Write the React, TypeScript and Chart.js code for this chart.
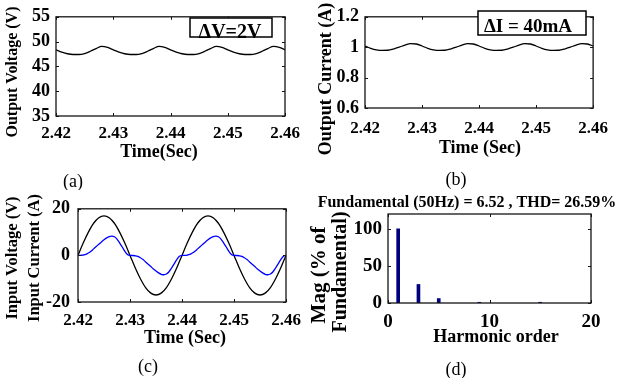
import React, { useEffect, useRef } from 'react';
import { Chart, registerables } from 'chart.js';

Chart.register(...registerables);

// ---------- data ----------
const time1ms = [2.420, 2.421, 2.422, 2.423, 2.424, 2.425, 2.426, 2.427, 2.428, 2.429,
  2.430, 2.431, 2.432, 2.433, 2.434, 2.435, 2.436, 2.437, 2.438, 2.439,
  2.440, 2.441, 2.442, 2.443, 2.444, 2.445, 2.446, 2.447, 2.448, 2.449,
  2.450, 2.451, 2.452, 2.453, 2.454, 2.455, 2.456, 2.457, 2.458, 2.459, 2.460];

const outputVoltage = [48.35, 47.9, 47.55, 47.4, 47.4, 47.6, 48.05, 48.6, 49.05, 48.85,
  48.35, 47.9, 47.55, 47.4, 47.4, 47.6, 48.05, 48.6, 49.05, 48.85,
  48.35, 47.9, 47.55, 47.4, 47.4, 47.6, 48.05, 48.6, 49.05, 48.85,
  48.35, 47.9, 47.55, 47.4, 47.4, 47.6, 48.05, 48.6, 49.05, 48.85, 48.35];

const outputCurrent = [1.008, 0.993, 0.983, 0.979, 0.98, 0.988, 1.0, 1.014, 1.024, 1.021,
  1.008, 0.993, 0.983, 0.979, 0.98, 0.988, 1.0, 1.014, 1.024, 1.021,
  1.008, 0.993, 0.983, 0.979, 0.98, 0.988, 1.0, 1.014, 1.024, 1.021,
  1.008, 0.993, 0.983, 0.979, 0.98, 0.988, 1.0, 1.014, 1.024, 1.021, 1.008];

const inputVoltage = [0, 5.3, 10.0, 13.8, 16.2, 17.0, 16.2, 13.8, 10.0, 5.3,
  0, -5.3, -10.0, -13.8, -16.2, -17.0, -16.2, -13.8, -10.0, -5.3,
  0, 5.3, 10.0, 13.8, 16.2, 17.0, 16.2, 13.8, 10.0, 5.3,
  0, -5.3, -10.0, -13.8, -16.2, -17.0, -16.2, -13.8, -10.0, -5.3, 0];

const time05ms = [2.4200, 2.4205, 2.4210, 2.4215, 2.4220, 2.4225, 2.4230, 2.4235, 2.4240, 2.4245,
  2.4250, 2.4255, 2.4260, 2.4265, 2.4270, 2.4275, 2.4280, 2.4285, 2.4290, 2.4295,
  2.4300, 2.4305, 2.4310, 2.4315, 2.4320, 2.4325, 2.4330, 2.4335, 2.4340, 2.4345,
  2.4350, 2.4355, 2.4360, 2.4365, 2.4370, 2.4375, 2.4380, 2.4385, 2.4390, 2.4395,
  2.4400, 2.4405, 2.4410, 2.4415, 2.4420, 2.4425, 2.4430, 2.4435, 2.4440, 2.4445,
  2.4450, 2.4455, 2.4460, 2.4465, 2.4470, 2.4475, 2.4480, 2.4485, 2.4490, 2.4495,
  2.4500, 2.4505, 2.4510, 2.4515, 2.4520, 2.4525, 2.4530, 2.4535, 2.4540, 2.4545,
  2.4550, 2.4555, 2.4560, 2.4565, 2.4570, 2.4575, 2.4580, 2.4585, 2.4590, 2.4595, 2.4600];

const inputCurrent = [0, 0.05, 0.15, 0.4, 1.0, 1.8, 2.8, 3.8, 4.8, 5.8,
  6.7, 7.5, 8.1, 8.3, 8.0, 7.0, 5.4, 3.6, 1.8, 0.4,
  0, -0.05, -0.15, -0.4, -1.0, -1.8, -2.8, -3.8, -4.8, -5.8,
  -6.7, -7.5, -8.1, -8.3, -8.0, -7.0, -5.4, -3.6, -1.8, -0.4,
  0, 0.05, 0.15, 0.4, 1.0, 1.8, 2.8, 3.8, 4.8, 5.8,
  6.7, 7.5, 8.1, 8.3, 8.0, 7.0, 5.4, 3.6, 1.8, 0.4,
  0, -0.05, -0.15, -0.4, -1.0, -1.8, -2.8, -3.8, -4.8, -5.8,
  -6.7, -7.5, -8.1, -8.3, -8.0, -7.0, -5.4, -3.6, -1.8, -0.4, 0];

const harmonicOrder = [1, 3, 5, 9, 15];
const harmonicMag = [100, 25, 6, 1, 1];

const timeTicks = [2.42, 2.43, 2.44, 2.45, 2.46];
const timeTickLabels = ['2.42', '2.43', '2.44', '2.45', '2.46'];
const voltageTicks = [35, 40, 45, 50, 55];
const voltageTickLabels = ['35', '40', '45', '50', '55'];
const currentTicks = [0.6, 0.8, 1.0, 1.2];
const currentTickLabels = ['0.6', '0.8', '1', '1.2'];
const inputTicks = [-20, 0, 20];
const inputTickLabels = ['-20', '0', '20'];
const magTicks = [0, 50, 100];
const magTickLabels = ['0', '50', '100'];
const orderTicks = [0, 10, 20];
const orderTickLabels = ['0', '10', '20'];

// ---------- rendering ----------
const FAMILY = "'Liberation Serif', 'Times New Roman', Times, serif";

type TextItem = { t: string; x: number; y: number; size: number; bold?: boolean; rot?: boolean };
type BoxItem = { x1: number; y1: number; x2: number; y2: number; t: string; tx: number; ty: number; size: number };
type AxisCfg = { min: number; max: number; ticks: number[]; labels: string[]; size: number; pad: number };
interface PanelCfg {
  key: string;
  canvas: [number, number, number, number];
  area: [number, number, number, number];
  type: 'line' | 'bar';
  datasets: any[];
  x: AxisCfg;
  y: AxisCfg;
  texts: TextItem[];
  box?: BoxItem;
}

const pts = (xs: number[], ys: number[]) => xs.map((x, i) => ({ x, y: ys[i] }));

const lineStyle = (color: string) => ({
  borderColor: color,
  borderWidth: 1.3,
  pointRadius: 0,
  fill: false,
  cubicInterpolationMode: 'monotone',
});

const panels: PanelCfg[] = [
  {
    key: 'a',
    canvas: [0, 0, 309, 190],
    area: [56, 13, 285, 116],
    type: 'line',
    datasets: [{ data: pts(time1ms, outputVoltage), ...lineStyle('#000000') }],
    x: { min: 2.42, max: 2.46, ticks: timeTicks, labels: timeTickLabels, size: 17, pad: 7 },
    y: { min: 35, max: 55, ticks: voltageTicks, labels: voltageTickLabels, size: 18, pad: 6 },
    texts: [
      { t: 'Output Voltage (V)', x: 13, y: 72, size: 16, bold: true, rot: true },
      { t: 'Time(Sec)', x: 159, y: 152, size: 18, bold: true },
      { t: '(a)', x: 73, y: 182, size: 18 },
    ],
    box: { x1: 190, y1: 18, x2: 272, y2: 37, t: 'ΔV=2V', tx: 230, ty: 37.5, size: 20 },
  },
  {
    key: 'b',
    canvas: [309, 0, 309, 190],
    area: [365, 11, 601, 108],
    type: 'line',
    datasets: [{ data: pts(time1ms, outputCurrent), ...lineStyle('#000000') }],
    x: { min: 2.42, max: 2.46, ticks: timeTicks, labels: timeTickLabels, size: 17, pad: 10 },
    y: { min: 0.6, max: 1.2, ticks: currentTicks, labels: currentTickLabels, size: 18, pad: 6 },
    texts: [
      { t: 'Output Current (A)', x: 326, y: 79, size: 18, bold: true, rot: true },
      { t: 'Time (Sec)', x: 480, y: 148, size: 18, bold: true },
      { t: '(b)', x: 456, y: 180, size: 18 },
    ],
    box: { x1: 478, y1: 11, x2: 586, y2: 35, t: 'ΔI = 40mA', tx: 528, ty: 32, size: 19 },
  },
  {
    key: 'c',
    canvas: [0, 190, 309, 188],
    area: [78, 202, 286, 302],
    type: 'line',
    datasets: [
      { data: pts(time05ms, inputCurrent), ...lineStyle('#0000ff') },
      { data: pts(time1ms, inputVoltage), ...lineStyle('#000000') },
    ],
    x: { min: 2.42, max: 2.46, ticks: timeTicks, labels: timeTickLabels, size: 17, pad: 8 },
    y: { min: -20, max: 20, ticks: inputTicks, labels: inputTickLabels, size: 18, pad: 8 },
    texts: [
      { t: 'Input Voltage (V)', x: 13, y: 258, size: 16.5, bold: true, rot: true },
      { t: 'Input Current (A)', x: 35, y: 258, size: 16.5, bold: true, rot: true },
      { t: 'Time (Sec)', x: 185, y: 338, size: 18, bold: true },
      { t: '(c)', x: 148, y: 367, size: 18 },
    ],
  },
  {
    key: 'd',
    canvas: [309, 190, 309, 188],
    area: [388, 214, 591, 303],
    type: 'bar',
    datasets: [{
      data: pts(harmonicOrder, harmonicMag),
      backgroundColor: '#00007f',
      borderColor: '#000033',
      borderWidth: 0,
      barThickness: 3,
    }],
    x: { min: 0, max: 20, ticks: orderTicks, labels: orderTickLabels, size: 19, pad: 8 },
    y: { min: 0, max: 120, ticks: magTicks, labels: magTickLabels, size: 19, pad: 6 },
    texts: [
      { t: 'Fundamental (50Hz) = 6.52 , THD= 26.59%', x: 467, y: 203, size: 16, bold: true },
      { t: 'Mag (% of', x: 320, y: 275, size: 21, bold: true, rot: true },
      { t: 'Fundamental)', x: 341, y: 272, size: 20, bold: true, rot: true },
      { t: 'Harmonic order', x: 496, y: 337, size: 18, bold: true },
      { t: '(d)', x: 456, y: 370, size: 18 },
    ],
  },
];

function Panel({ cfg }: { cfg: PanelCfg }) {
  const ref = useRef<HTMLCanvasElement | null>(null);
  const [cl, ct, cw, ch] = cfg.canvas;

  useEffect(() => {
    const canvas = ref.current;
    if (!canvas) return;
    const [L, T, R, B] = cfg.area;

    const frame = {
      id: 'frame' + cfg.key,
      afterDraw(chart: any) {
        const ctx = chart.ctx as CanvasRenderingContext2D;
        const a = chart.chartArea;
        const xs = chart.scales.x;
        const ys = chart.scales.y;
        ctx.save();
        ctx.strokeStyle = '#141414';
        ctx.lineWidth = 1.3;
        ctx.strokeRect(a.left, a.top, a.right - a.left, a.bottom - a.top);
        ctx.lineWidth = 1;
        ctx.beginPath();
        cfg.x.ticks.forEach((v) => {
          const p = Math.round(xs.getPixelForValue(v)) + 0.5;
          ctx.moveTo(p, a.bottom); ctx.lineTo(p, a.bottom - 3);
          ctx.moveTo(p, a.top); ctx.lineTo(p, a.top + 3);
        });
        cfg.y.ticks.forEach((v) => {
          const p = Math.round(ys.getPixelForValue(v)) + 0.5;
          ctx.moveTo(a.left, p); ctx.lineTo(a.left + 3, p);
          ctx.moveTo(a.right, p); ctx.lineTo(a.right - 3, p);
        });
        ctx.stroke();

        ctx.fillStyle = '#000';
        if (cfg.box) {
          const b = cfg.box;
          ctx.fillStyle = '#fff';
          ctx.fillRect(b.x1 - cl, b.y1 - ct, b.x2 - b.x1, b.y2 - b.y1);
          ctx.fillStyle = '#000';
          ctx.font = `bold ${b.size}px ${FAMILY}`;
          ctx.textAlign = 'center';
          ctx.textBaseline = 'alphabetic';
          ctx.fillText(b.t, b.tx - cl, b.ty - ct);
          ctx.lineWidth = 1.5;
          ctx.strokeStyle = '#000';
          ctx.strokeRect(b.x1 - cl, b.y1 - ct, b.x2 - b.x1, b.y2 - b.y1);
        }

        cfg.texts.forEach((it) => {
          ctx.save();
          ctx.fillStyle = '#000';
          ctx.font = `${it.bold ? 'bold ' : ''}${it.size}px ${FAMILY}`;
          ctx.textAlign = 'center';
          ctx.textBaseline = 'middle';
          ctx.translate(it.x - cl, it.y - ct);
          if (it.rot) ctx.rotate(-Math.PI / 2);
          ctx.fillText(it.t, 0, 0);
          ctx.restore();
        });
        ctx.restore();
      },
    };

    const axis = (ac: AxisCfg, horizontal: boolean) => ({
      type: 'linear',
      min: ac.min,
      max: ac.max,
      offset: false,
      afterBuildTicks: (s: any) => { s.ticks = ac.ticks.map((value) => ({ value })); },
      afterFit: (s: any) => {
        if (horizontal) s.height = ct + ch - B;
        else s.width = L - cl;
      },
      grid: { display: false, drawTicks: false, offset: false },
      border: { display: false },
      ticks: {
        color: '#000',
        font: { family: FAMILY, size: ac.size, weight: 'bold' },
        padding: ac.pad,
        maxRotation: 0,
        minRotation: 0,
        autoSkip: false,
        callback: (_v: any, i: number) => ac.labels[i],
      },
    });

    const chart = new Chart(canvas, {
      type: cfg.type,
      data: { datasets: cfg.datasets },
      options: {
        animation: false,
        responsive: false,
        devicePixelRatio: 1,
        layout: { padding: { left: 0, top: T - ct, right: cl + cw - R, bottom: 0 } },
        plugins: { legend: { display: false }, tooltip: { enabled: false }, title: { display: false } },
        scales: { x: axis(cfg.x, true) as any, y: axis(cfg.y, false) as any },
      } as any,
      plugins: [frame],
    } as any);
    return () => chart.destroy();
  }, [cfg]);

  return (
    <canvas
      ref={ref}
      width={cw}
      height={ch}
      style={{ position: 'absolute', left: cl, top: ct, width: cw, height: ch }}
    />
  );
}

export default function App() {
  return (
    <div style={{ position: 'fixed', left: 0, top: 0, width: 618, height: 378, background: '#fff', overflow: 'hidden' }}>
      {panels.map((p) => <Panel key={p.key} cfg={p} />)}
    </div>
  );
}
